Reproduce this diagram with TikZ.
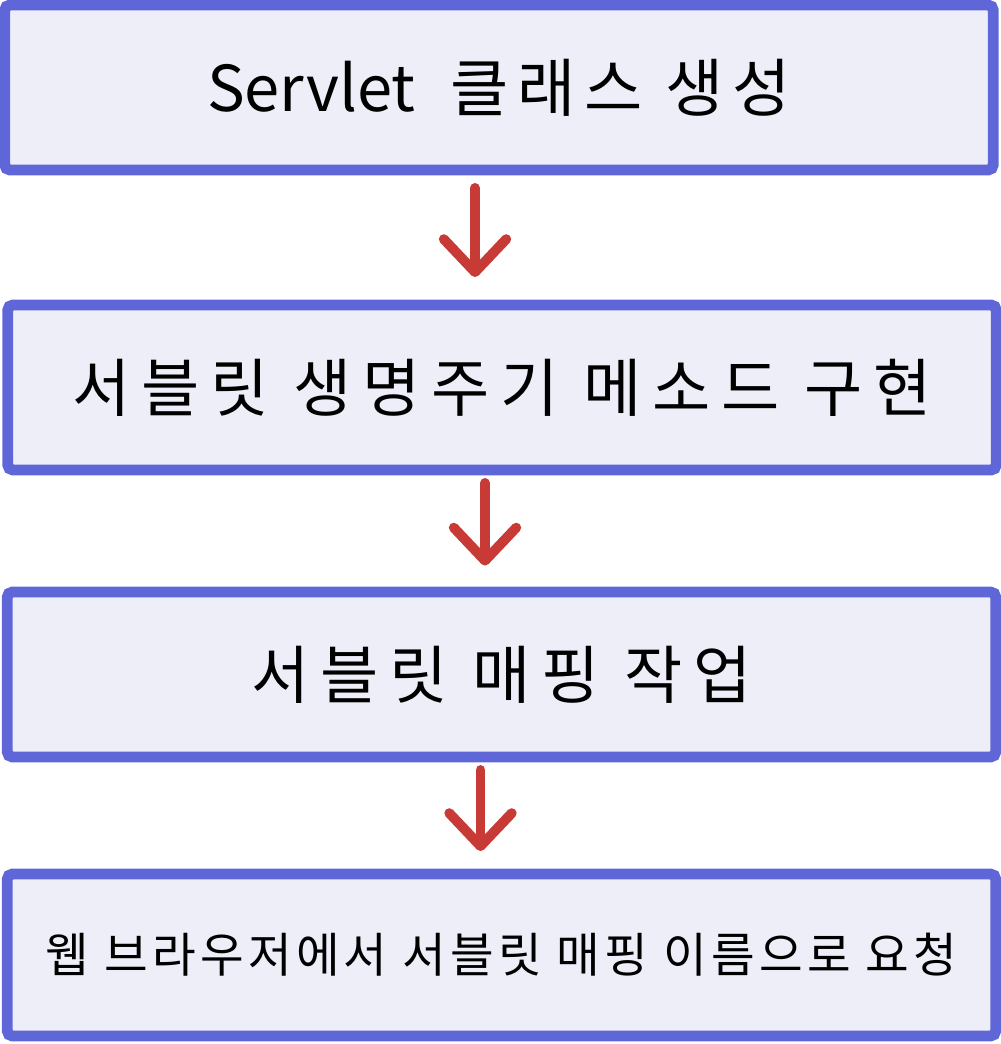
\documentclass[tikz,border=0pt]{standalone}
\usepackage{fontspec}
\setmainfont{Noto Sans CJK KR}
\usepackage{tikz}
\usetikzlibrary{arrows.meta,positioning,calc}
\definecolor{stepblue}{HTML}{5F67D8}
\definecolor{stepfill}{HTML}{EEEEF9}
\definecolor{flowred}{HTML}{C83A35}
\newcommand{\steptext}[3]{\fontsize{#1}{#1}\selectfont\addfontfeature{LetterSpace=#2}#3}

\begin{document}
\begin{tikzpicture}[
  stepbox/.style={draw=stepblue,fill=stepfill,line width=6.2pt,rounded corners=3pt,minimum width=19.77cm,minimum height=3.3cm,align=center,inner sep=0pt},
  flow/.style={-{Straight Barb[length=0.66cm,width=1.25cm,line cap=round,line join=round]},line width=5.6pt,line cap=round,color=flowred}
]
\useasboundingbox (0,0) rectangle (20,-20.88);
\node[stepbox] (servlet) at (9.98,-1.75) {\fontsize{36}{36}\selectfont Servlet\hspace{0.55em}\steptext{36}{14}{클래스 생성}};
\node[stepbox] (lifecycle) at (10.04,-7.75) {\steptext{36}{17}{서블릿 생명주기 메소드 구현}};
\node[stepbox] (mapping) at (10.03,-13.49) {\steptext{36}{17}{서블릿 매핑 작업}};
\node[stepbox,minimum height=3.24cm] (request) at (10.03,-19.1) {\steptext{27}{9}{웹 브라우저에서 서블릿 매핑 이름으로 요청}};

\draw[flow] ([xshift=-0.48cm,yshift=-0.25cm]servlet.south) -- ([xshift=-0.48cm,yshift=0.45cm]servlet.south |- lifecycle.north);
\draw[flow] ([xshift=-0.34cm,yshift=-0.15cm]lifecycle.south) -- ([xshift=-0.34cm,yshift=0.42cm]lifecycle.south |- mapping.north);
\draw[flow] ([xshift=-0.42cm,yshift=-0.15cm]mapping.south) -- ([xshift=-0.42cm,yshift=0.35cm]mapping.south |- request.north);
\end{tikzpicture}
\end{document}
